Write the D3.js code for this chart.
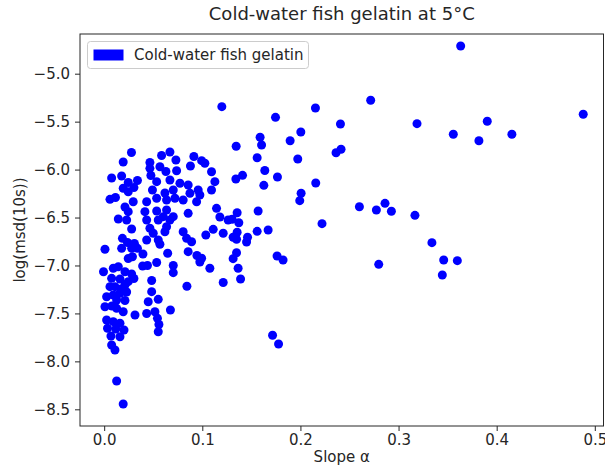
<!DOCTYPE html>
<html>
<head>
<meta charset="utf-8">
<script src="https://cdn.jsdelivr.net/npm/d3@7"></script>
<style>
  html, body { margin: 0; padding: 0; background: #ffffff; }
  svg { display: block; }
  text { font-family: "DejaVu Sans", sans-serif; fill: #262626; }
</style>
</head>
<body>
<svg id="chart" width="605" height="470"></svg>
<script>
// ---- data ----
const title = "Cold-water fish gelatin at 5°C";
const xLabel = "Slope α";
const yLabel = "log(msd(10s))";
const seriesName = "Cold-water fish gelatin";

const xTicks = [0.0, 0.1, 0.2, 0.3, 0.4, 0.5];
const xTickLabels = ["0.0", "0.1", "0.2", "0.3", "0.4", "0.5"];
const yTicks = [-8.5, -8.0, -7.5, -7.0, -6.5, -6.0, -5.5, -5.0];
const yTickLabels = ["−8.5", "−8.0", "−7.5", "−7.0", "−6.5", "−6.0", "−5.5", "−5.0"];

const slopeAlpha = [
  0.0278, 0.0194, 0.0076, 0.0178, 0.0245, 0.0339, 0.0194, 0.0245, 0.0303, 0.0059,
  0.0115, 0.0296, 0.0212, 0.0245, 0.0144, 0.0229, 0.0280, 0.0186, 0.0237, 0.0308,
  0.0178, 0.0280, 0.0339, 0.0008, 0.0395, 0.0245, 0.0288, 0.0392, 0.0441, 0.0535,
  -0.0007, 0.0093, 0.0144, 0.0212, 0.0280, 0.0076, 0.0161, 0.0245, 0.0303, 0.0484,
  0.0110, 0.0212, 0.0059, 0.0171, 0.0484, 0.0025, 0.0093, 0.0161, 0.0229, 0.0127,
  0.0212, 0.0449, 0.0551, 0.0008, 0.0079, 0.0127, 0.0194, 0.0314, 0.0433, 0.0517,
  0.0543, 0.0558, 0.0551, 0.0675, 0.0025, 0.0093, 0.0161, 0.0034, 0.0118, 0.0202,
  0.0069, 0.0161, 0.0076, 0.0110, 0.0127, 0.0194,
  0.0466, 0.0585, 0.0670, 0.0731, 0.0466, 0.0568, 0.0629, 0.0738, 0.0476, 0.0535,
  0.0670, 0.0772, 0.0856, 0.0492, 0.0619, 0.0704, 0.0874, 0.0958, 0.0975, 0.1094,
  0.0914, 0.0993, 0.1026, 0.0879, 0.1094, 0.1128, 0.0433, 0.0535, 0.0636, 0.0721,
  0.0805, 0.0942, 0.1145, 0.1179, 0.1263, 0.0415, 0.0535, 0.0636, 0.0704, 0.0602,
  0.0856, 0.0433, 0.0551, 0.0670, 0.0466, 0.0500, 0.0619, 0.0636, 0.0805, 0.0840,
  0.0891, 0.1036, 0.1111, 0.1213, 0.0433, 0.0551, 0.0568, 0.0647, 0.0856, 0.0945,
  0.0993, 0.0975, 0.1077, 0.0704, 0.0704, 0.0843, 0.1213,
  0.1199, 0.1746, 0.2153, 0.2408, 0.2004, 0.1895, 0.1589, 0.1604, 0.1345, 0.1559,
  0.1973, 0.2363, 0.2414, 0.1637, 0.1766, 0.1410, 0.1342, 0.1627, 0.2156, 0.2007,
  0.1993, 0.2601, 0.2220, 0.1569, 0.1355, 0.1372, 0.1304, 0.1559, 0.1671, 0.1355,
  0.1349, 0.1314, 0.1461, 0.1451, 0.1762, 0.1823, 0.1349, 0.1314, 0.1365, 0.1390,
  0.1716, 0.1777,
  0.3633, 0.2716, 0.3188, 0.3904, 0.3558, 0.3819, 0.4155, 0.4882, 0.2774, 0.2862,
  0.2927, 0.3167, 0.3340, 0.3460, 0.3599, 0.3446, 0.2798
];
const logMsd = [
  -5.822, -5.921, -6.088, -6.067, -6.135, -6.114, -6.195, -6.231, -6.187, -6.310,
  -6.291, -6.335, -6.390, -6.439, -6.515, -6.526, -6.620, -6.717, -6.760, -6.771,
  -6.821, -6.821, -6.821, -6.831, -6.880, -6.927, -6.909, -7.005, -7.000, -6.969,
  -7.065, -7.029, -7.013, -7.065, -7.089, -7.134, -7.141, -7.169, -7.136, -7.157,
  -7.221, -7.204, -7.221, -7.245, -7.273, -7.326, -7.308, -7.290, -7.277, -7.360,
  -7.365, -7.378, -7.353, -7.430, -7.423, -7.447, -7.482, -7.516, -7.501, -7.482,
  -7.551, -7.616, -7.691, -7.464, -7.569, -7.586, -7.603, -7.655, -7.662, -7.673,
  -7.735, -7.743, -7.829, -7.881, -8.205, -8.445,
  -5.926, -5.853, -5.817, -5.900, -5.987, -5.970, -6.020, -6.012, -6.062, -6.126,
  -6.109, -6.143, -6.161, -6.213, -6.244, -6.213, -6.247, -6.213, -6.265, -6.213,
  -5.864, -5.907, -5.934, -5.963, -6.022, -6.126, -6.335, -6.299, -6.317, -6.299,
  -6.317, -6.335, -6.404, -6.494, -6.526, -6.439, -6.432, -6.421, -6.491, -6.491,
  -6.456, -6.526, -6.526, -6.526, -6.612, -6.664, -6.648, -6.596, -6.648, -6.717,
  -6.752, -6.682, -6.623, -6.664, -6.734, -6.734, -6.779, -6.873, -6.856, -6.896,
  -6.925, -6.964, -7.029, -7.000, -7.075, -7.217, -7.177,
  -5.344, -5.455, -5.358, -5.525, -5.608, -5.699, -5.663, -5.744, -5.757, -5.876,
  -5.890, -5.824, -5.788, -6.009, -6.077, -6.060, -6.098, -6.164, -6.140, -6.247,
  -6.324, -6.387, -6.564, -6.432, -6.450, -6.554, -6.518, -6.644, -6.630, -6.654,
  -6.727, -6.706, -6.706, -6.755, -6.901, -6.943, -6.867, -6.929, -7.029, -7.141,
  -7.728, -7.819,
  -4.711, -5.277, -5.521, -5.496, -5.632, -5.699, -5.632, -5.423, -6.421, -6.352,
  -6.435, -6.477, -6.762, -6.943, -6.950, -7.099, -6.988
];

const points = slopeAlpha.map((x, i) => ({ x: x, y: logMsd[i] }));

// ---- layout ----
const svg = d3.select("#chart");
const plot = { left: 80, right: 603.5, top: 34, bottom: 426 };

const x = d3.scaleLinear().domain([-0.02464, 0.50886]).range([plot.left, plot.right]);
const y = d3.scaleLinear().domain([-8.674, -4.586]).range([plot.bottom, plot.top]);

// points
const clipId = "plotclip";
svg.append("defs").append("clipPath").attr("id", clipId)
  .append("rect")
  .attr("x", plot.left).attr("y", plot.top)
  .attr("width", plot.right - plot.left).attr("height", plot.bottom - plot.top);

svg.append("g").attr("clip-path", `url(#${clipId})`)
  .selectAll("circle")
  .data(points)
  .enter().append("circle")
  .attr("cx", d => x(d.x))
  .attr("cy", d => y(d.y))
  .attr("r", 4.5)
  .attr("fill", "#0000ff");

// axes
const xAxis = d3.axisBottom(x).tickValues(xTicks)
  .tickFormat((d, i) => xTickLabels[i]).tickSize(5).tickPadding(3);
const gx = svg.append("g").attr("transform", `translate(0,${plot.bottom})`).call(xAxis);
gx.select(".domain").remove();
gx.selectAll(".tick line").attr("stroke", "#262626").attr("stroke-width", 1);
gx.selectAll(".tick text").attr("font-size", 15).attr("fill", "#262626")
  .attr("font-family", "DejaVu Sans, sans-serif");

const yAxis = d3.axisLeft(y).tickValues(yTicks)
  .tickFormat((d, i) => yTickLabels[i]).tickSize(5).tickPadding(5);
const gy = svg.append("g").attr("transform", `translate(${plot.left},0)`).call(yAxis);
gy.select(".domain").remove();
gy.selectAll(".tick line").attr("stroke", "#262626").attr("stroke-width", 1);
gy.selectAll(".tick text").attr("font-size", 15).attr("fill", "#262626")
  .attr("font-family", "DejaVu Sans, sans-serif");

// frame
svg.append("rect")
  .attr("x", plot.left).attr("y", plot.top)
  .attr("width", plot.right - plot.left).attr("height", plot.bottom - plot.top)
  .attr("fill", "none").attr("stroke", "#262626").attr("stroke-width", 1);

// title and labels
svg.append("text").attr("x", (plot.left + plot.right) / 2).attr("y", 20)
  .attr("text-anchor", "middle").attr("font-size", 18).text(title);

svg.append("text").attr("x", (plot.left + plot.right) / 2).attr("y", 462)
  .attr("text-anchor", "middle").attr("font-size", 15).text(xLabel);

svg.append("text")
  .attr("transform", `translate(25,${(plot.top + plot.bottom) / 2}) rotate(-90)`)
  .attr("text-anchor", "middle").attr("font-size", 15).text(yLabel);

// legend
const lg = svg.append("g");
const lgRect = lg.append("rect")
  .attr("x", 87.5).attr("y", 41.5).attr("height", 27)
  .attr("rx", 3).attr("ry", 3)
  .attr("fill", "#ffffff").attr("fill-opacity", 0.8)
  .attr("stroke", "#cccccc").attr("stroke-width", 1);
lg.append("rect").attr("x", 93.5).attr("y", 49.5).attr("width", 30).attr("height", 11)
  .attr("fill", "#0000ff");
const lgText = lg.append("text").attr("x", 134).attr("y", 60)
  .attr("font-size", 15).text(seriesName);
const tw = lgText.node().getComputedTextLength();
lgRect.attr("width", 134 + tw + 5 - 87.5);
</script>
</body>
</html>
